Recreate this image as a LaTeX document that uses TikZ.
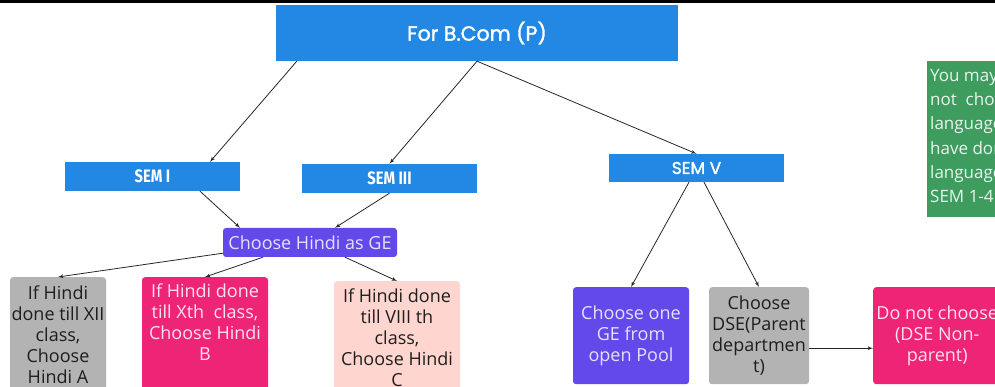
\documentclass[tikz,border=0pt]{standalone}
\usepackage{fontspec}
\setmainfont{Open Sans}
\newfontfamily\titlefont[FakeBold=1.6]{Poppins}
\newfontfamily\semfont[FakeStretch=0.82]{Fira Sans}
\usetikzlibrary{arrows,positioning}
\definecolor{boxblue}{HTML}{2388E3}
\definecolor{notegreen}{HTML}{3F9C5F}
\definecolor{cardpurple}{HTML}{6349EA}
\definecolor{cardpink}{HTML}{EE2476}
\definecolor{cardrose}{HTML}{FFD6CF}
\definecolor{cardgray}{HTML}{B3B3B3}
\definecolor{lavender}{HTML}{E6E0FF}
\definecolor{blush}{HTML}{FFE2EE}
\definecolor{mint}{HTML}{E8F5EC}
\definecolor{inkdark}{HTML}{1E1E1E}
\definecolor{linegray}{HTML}{262626}

\begin{document}
\begin{tikzpicture}[x=1pt,y=-1pt]
\tikzset{box/.style = {shape=rectangle,inner sep=0pt,align=center}}
\tikzset{sem/.style = {box,fill=boxblue,text=white,minimum width=175pt,minimum height=29pt}}
\tikzset{card/.style = {box,rounded corners=3pt,text=inkdark,font=\fontsize{18}{21}\selectfont}}
\tikzset{edge/.style = {->,> = latex',draw=linegray,line width=0.8pt}}
\useasboundingbox (0,0) rectangle (995,387);
\clip (0,0) rectangle (995,387);
\fill[black] (0,0) rectangle (995,3.5);

\node[box,fill=boxblue,text=white,minimum width=402pt,minimum height=56pt,font=\titlefont\fontsize{20.5}{24}\selectfont] (bcom) at (477,33) {For B.Com (P)};
\node[sem,font=\semfont\bfseries\fontsize{18}{21}\selectfont] (sem1) at (152.5,176.5) {SEM I};
\node[sem,font=\semfont\bfseries\fontsize{18}{21}\selectfont] (sem3) at (389.5,178.5) {SEM III};
\node[sem,minimum height=28pt,font=\titlefont\fontsize{17}{20}\selectfont] (sem5) at (696.5,168) {SEM V};
\node[box,fill=notegreen,anchor=north west,minimum width=90pt,minimum height=156pt] (note) at (927,61) {};
\node[box,text=mint,align=flush left,font=\fontsize{17}{24.3}\selectfont,below right=8pt and 3pt of note.north west] (notetext) {You may\\not \ choose\\language\\have done\\language\\SEM 1-4};

\node[card,fill=cardpurple,text=lavender,minimum width=174pt,minimum height=29pt] (hindiGE) at (310,242.5) {Choose Hindi as GE};

\node[card,fill=cardgray,minimum width=96pt,minimum height=115pt,anchor=north] (hindiA) at (58,277) {If Hindi\\done till XII\\class,\\Choose\\Hindi A};
\node[card,fill=cardpink,minimum width=126pt,minimum height=120pt,anchor=north] (hindiB) at (205,277) {};
\node[card,text=blush,below=7pt of hindiB.north] (hindiBtext) {If Hindi done\\till Xth \ class,\\Choose Hindi\\B};
\node[card,fill=cardrose,minimum width=126pt,minimum height=113pt,anchor=north] (hindiC) at (397,281) {If Hindi done\\till VIII th\\class,\\Choose Hindi\\C};

\node[card,fill=cardpurple,text=lavender,minimum width=116pt,minimum height=97pt,anchor=north] (oneGE) at (631,287) {Choose one\\GE from\\open Pool};
\node[card,fill=cardgray,minimum width=100pt,minimum height=97pt,anchor=north] (dse) at (759,287) {Choose\\DSE(Parent\\departmen\\t)};
\node[card,fill=cardpink,text=blush,minimum width=128pt,minimum height=97pt,anchor=north west] (nondse) at (873,287) {Do not choose\\(DSE Non-\\parent)};

\draw[edge] ([xshift=21pt]bcom.south west) to ([xshift=57.5pt]sem1.north);
\draw[edge] (bcom.south) to (sem3.north);
\draw[edge] (bcom.south) to (sem5.north);
\draw[edge] ([xshift=47.5pt]sem1.south) to ([xshift=-70pt]hindiGE.north);
\draw[edge] (sem3.south) to ([xshift=25pt]hindiGE.north);
\draw[edge] ([yshift=4pt]hindiGE.south west) to (hindiA.north);
\draw[edge] ([xshift=-47pt]hindiGE.south) to (hindiB.north);
\draw[edge] ([xshift=35pt]hindiGE.south) to (hindiC.north);
\draw[edge] ([xshift=-7.5pt]sem5.south) to (oneGE.north);
\draw[edge] ([xshift=7.5pt]sem5.south) to (dse.north);
\draw[edge] ([yshift=-12.5pt]dse.east) to ([yshift=-12.5pt]nondse.west);
\end{tikzpicture}
\end{document}
